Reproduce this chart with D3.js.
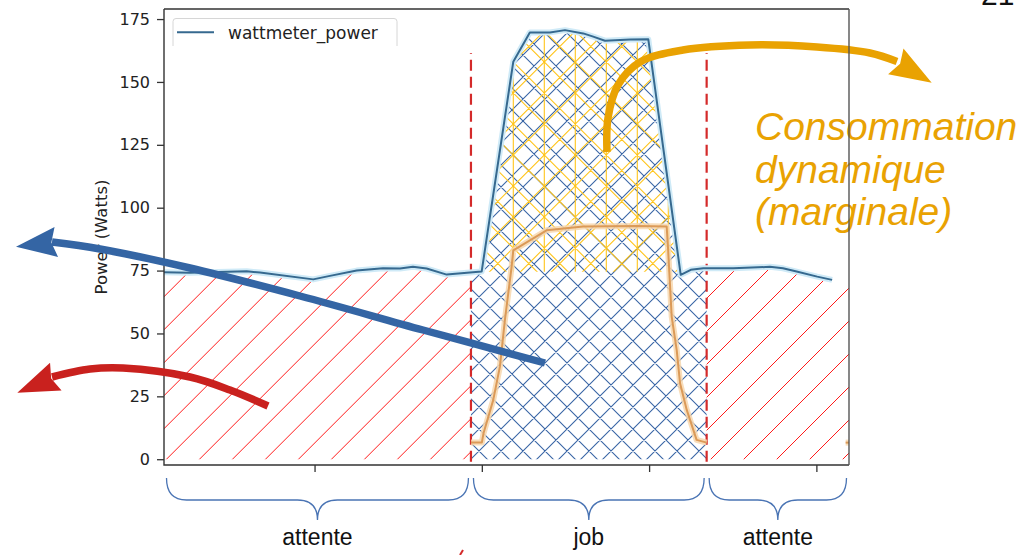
<!DOCTYPE html>
<html><head><meta charset="utf-8">
<script src="https://cdn.jsdelivr.net/npm/d3@7"></script>
<style>body{margin:0;background:#fff;} svg{display:block;}</style>
</head><body>
<svg id="c" width="1028" height="555"></svg>
<script>
// ---------- data ----------
const powerTime  = [-90, -74.5, -40.6, -32.6, -0.8, 9.2, 25.2, 40.9, 51.1, 58.8, 67, 79, 92.9, 99.9, 118.8, 128.7, 140.7, 149.7, 160.6, 166.6, 173.6, 188.8, 199.5, 218.9, 224.9, 232.4, 250.3, 272.2, 280, 288.2, 300.5, 309.4];
const powerWatts = [74.3, 74.1, 74.7, 74.2, 71.5, 72.9, 75.0, 75.9, 75.8, 76.5, 75.8, 73.4, 74.2, 74.6, 158.0, 169.7, 169.7, 170.6, 169.3, 168.0, 166.4, 166.9, 167.0, 73.3, 75.3, 75.9, 75.9, 76.5, 75.9, 74.6, 72.6, 71.3];
const dynTime  = [93.5, 100, 101, 106.8, 110.8, 113.8, 117.8, 118.8, 138.7, 160.5, 192.6, 210.5, 211.4, 213.5, 216.5, 218.5, 222.5, 228.4, 234.4];
const dynWatts = [6.6, 6.6, 10.3, 23.5, 36.8, 55.4, 76.5, 83.0, 91.0, 92.5, 92.7, 92.5, 83.0, 56.7, 43.4, 30.2, 19.6, 7.7, 6.6];
const dynTailTime  = [317.5, 319.5];
const dynTailWatts = [6.6, 6.6];
const phaseLabels = ["attente", "job", "attente"];
const phaseStart  = [-90, 93.5, 234.4];
const phaseEnd    = [93.5, 234.4, 319.5];
const idleBaseline = 74.5;
const markerTop = 161.5;
const yTicks = [0, 25, 50, 75, 100, 125, 150, 175];
const xTicks = [0, 100, 200, 300];
const legendLabel = "wattmeter_power";
const yAxisLabel = "Power (Watts)";
const noteLines = ["Consommation", "dynamique", "(marginale)"];
const slideNumber = "21";

// ---------- layout ----------
const plot = {left: 164, right: 849, top: 9, bottom: 465};
const x = d3.scaleLinear().domain([-90, 319.5]).range([plot.left, plot.right]);
const y = d3.scaleLinear().domain([-2.3, 179]).range([plot.bottom, plot.top]);

const svg = d3.select("#c");
const defs = svg.append("defs");

const power = powerTime.map((t, i) => ({t, w: powerWatts[i]}));
const powerExt = power.concat([{t: x.domain()[1], w: powerWatts[powerWatts.length - 1]}]);
const dyn = dynTime.map((t, i) => ({t, w: dynWatts[i]}));
const dynTail = dynTailTime.map((t, i) => ({t, w: dynTailWatts[i]}));
const phases = phaseLabels.map((l, i) => ({label: l, start: phaseStart[i], end: phaseEnd[i]}));

// clip paths
phases.forEach((ph, i) => {
  defs.append("clipPath").attr("id", "clip" + i).append("rect")
    .attr("x", x(ph.start)).attr("y", plot.top)
    .attr("width", x(ph.end) - x(ph.start)).attr("height", plot.bottom - plot.top);
});
defs.append("clipPath").attr("id", "plotClip").append("rect")
  .attr("x", plot.left).attr("y", plot.top).attr("width", plot.right - plot.left).attr("height", plot.bottom - plot.top);
const areaFull = d3.area().x(d => x(d.t)).y0(y(0)).y1(d => y(d.w));
const areaDyn = d3.area().x(d => x(d.t)).y0(y(idleBaseline)).y1(d => y(Math.max(d.w, idleBaseline)));
defs.append("clipPath").attr("id", "areaFullClip").append("path").datum(powerExt).attr("d", areaFull);
defs.append("clipPath").attr("id", "areaDynClip").append("path").datum(power).attr("d", areaDyn);

// hatch line generator (explicit lines)
function hatch(parent, spacing, offset, kinds, color, sw) {
  const T = plot.top - 40, B = plot.bottom + 40;
  let d = "";
  const lo = plot.left - 600, hi = plot.right + 600;
  const k0 = Math.floor((lo - offset) / spacing), k1 = Math.ceil((hi - offset) / spacing);
  for (let k = k0; k <= k1; k++) {
    const c = offset + k * spacing;
    if (kinds.includes("/")) d += `M${c - B},${B}L${c - T},${T}`;
    if (kinds.includes("\\")) d += `M${c + T},${T}L${c + B},${B}`;
    if (kinds.includes("|") && c >= plot.left - 5 && c <= plot.right + 5) d += `M${c},${T}L${c},${B}`;
  }
  parent.append("path").attr("d", d).attr("stroke", color).attr("stroke-width", sw).attr("fill", "none");
}
function region(phaseIdx, clipId) {
  return svg.append("g").attr("clip-path", `url(#clip${phaseIdx})`)
    .append("g").attr("clip-path", `url(#${clipId})`);
}
hatch(region(0, "areaFullClip"), 33, 460.7, "/", "#ff1a1a", 1);
hatch(region(2, "areaFullClip"), 33, 1005, "/", "#ff1a1a", 1);
hatch(region(1, "areaFullClip"), 22, 6, "/\\", "#3a66a6", 1.1);
const yel = region(1, "areaDynClip");
hatch(yel, 31, 513.3, "/\\", "#ffc41a", 1.1);
hatch(yel, 31, 513.3, "|", "#ffc41a", 1.1);

// phase boundary dashed lines
[phaseStart[1], phaseStart[2]].forEach(t => {
  svg.append("line").attr("x1", x(t)).attr("x2", x(t)).attr("y1", y(-1)).attr("y2", y(markerTop))
    .attr("stroke", "#d42a2a").attr("stroke-width", 2.2).attr("stroke-dasharray", "11,6");
});

// dynamic (orange) curve
const lineGen = d3.line().x(d => x(d.t)).y(d => y(d.w));
[dyn, dynTail].forEach(data => {
  svg.append("path").datum(data).attr("d", lineGen).attr("fill", "none")
    .attr("stroke", "#f7d7ae").attr("stroke-width", 6).attr("stroke-linejoin", "round").attr("opacity", 0.85);
  svg.append("path").datum(data).attr("d", lineGen).attr("fill", "none")
    .attr("stroke", "#db9a58").attr("stroke-width", 2).attr("stroke-linejoin", "round");
});

// power line with halo
svg.append("path").datum(power).attr("d", lineGen).attr("fill", "none")
  .attr("stroke", "#cfeaf7").attr("stroke-width", 6).attr("stroke-linejoin", "round").attr("clip-path", "url(#plotClip)");
svg.append("path").datum(power).attr("d", lineGen).attr("fill", "none")
  .attr("stroke", "#36698f").attr("stroke-width", 2).attr("stroke-linejoin", "round");

// legend
const lg = svg.append("g");
lg.append("rect").attr("x", 173).attr("y", 18.5).attr("width", 224).attr("height", 30).attr("fill", "#fff").attr("opacity", 0.9);
lg.append("path").attr("d", "M173,46L173,21.5Q173,18.5 176,18.5L394,18.5Q397,18.5 397,21.5L397,46")
  .attr("fill", "none").attr("stroke", "#d6d6d6").attr("stroke-width", 1);
lg.append("line").attr("x1", 177).attr("x2", 214).attr("y1", 32.3).attr("y2", 32.3)
  .attr("stroke", "#36698f").attr("stroke-width", 2);
lg.append("text").attr("x", 228).attr("y", 38.5).text(legendLabel)
  .attr("font-family", "DejaVu Sans").attr("font-size", 17).attr("fill", "#222");

// axes
const axisColor = "#333";
const yAxis = svg.append("g").attr("transform", `translate(${plot.left},0)`)
  .call(d3.axisLeft(y).tickValues(yTicks).tickSize(7).tickPadding(7));
yAxis.select(".domain").remove();
yAxis.selectAll("line").attr("stroke", axisColor).attr("stroke-width", 1.3);
yAxis.selectAll("text").attr("font-family", "DejaVu Sans").attr("font-size", 16).attr("fill", "#222");
const xAxis = svg.append("g").attr("transform", `translate(0,${plot.bottom})`)
  .call(d3.axisBottom(x).tickValues(xTicks).tickSize(7).tickFormat(""));
xAxis.select(".domain").remove();
xAxis.selectAll("line").attr("stroke", axisColor).attr("stroke-width", 1.3);

svg.append("text").attr("transform", `translate(107,237) rotate(-90)`).attr("text-anchor", "middle")
  .attr("font-family", "DejaVu Sans").attr("font-size", 16.5).attr("fill", "#222").text(yAxisLabel);

// spines (left, bottom, top)
svg.append("path").attr("d", `M${plot.left},${plot.top}L${plot.left},${plot.bottom}L${plot.right},${plot.bottom}M${plot.left},${plot.top}L${plot.right},${plot.top}`)
  .attr("fill", "none").attr("stroke", axisColor).attr("stroke-width", 1.4);

// braces + phase labels
const braceTop = 478, braceMid = 500, braceTip = 520;
phases.forEach(ph => {
  const x1 = x(ph.start) + 2.5, x2 = x(ph.end) - 2.5, xm = (x1 + x2) / 2, r = 20;
  const d = `M${x1},${braceTop}Q${x1},${braceMid} ${x1 + r},${braceMid}L${xm - r},${braceMid}Q${xm},${braceMid} ${xm},${braceTip}` +
            `Q${xm},${braceMid} ${xm + r},${braceMid}L${x2 - r},${braceMid}Q${x2},${braceMid} ${x2},${braceTop}`;
  svg.append("path").attr("d", d).attr("fill", "none").attr("stroke", "#4a74b4").attr("stroke-width", 1.3);
  svg.append("text").attr("x", xm).attr("y", 545).attr("text-anchor", "middle")
    .attr("font-family", "Liberation Sans").attr("font-size", 23).attr("fill", "#111").text(ph.label);
});

// annotation arrows
function arrowHead(tip, base, hw, notch) {
  const dx = base[0] - tip[0], dy = base[1] - tip[1], L = Math.hypot(dx, dy);
  const ux = dx / L, uy = dy / L, px = -uy, py = ux;
  const c1 = [base[0] + px * hw, base[1] + py * hw], c2 = [base[0] - px * hw, base[1] - py * hw];
  const n = [base[0] - ux * notch, base[1] - uy * notch];
  return `M${tip}L${c1}L${n}L${c2}Z`;
}
const curve = d3.line().curve(d3.curveCatmullRom.alpha(0.5));
const arrows = [
  {color: "#3465a4", pts: [[545,363],[423,330],[300,296],[190,268],[100,249],[52,242]], tip: [16,246.7], base: [56.3,242]},
  {color: "#c9211e", pts: [[268,406],[230,390],[190,377],[123,368],[90,369],[52,377]], tip: [17.3,392.7], base: [55.8,376.7]},
  {color: "#e9a202", pts: [[607,152],[608,118],[618,85],[640,62],[683,50],[750,45],[817,47],[870,53],[897,61.5]], tip: [931.7,82.7], base: [895.8,61.3]}
];

// note text
const note = svg.append("text").attr("font-family", "Liberation Sans").attr("font-style", "italic")
  .attr("font-size", 39).attr("fill", "#e9a202");
noteLines.forEach((l, i) => note.append("tspan").attr("x", 755).attr("y", 140 + i * 42.5).text(l));

arrows.forEach(a => {
  svg.append("path").attr("d", curve(a.pts)).attr("fill", "none").attr("stroke", a.color).attr("stroke-width", 7.5);
  svg.append("path").attr("d", arrowHead(a.tip, a.base, 15, 5)).attr("fill", a.color);
});

// right spine on top
svg.append("line").attr("x1", plot.right).attr("x2", plot.right).attr("y1", plot.top).attr("y2", plot.bottom)
  .attr("stroke", "#555").attr("stroke-width", 1.4);

// slide number (cut at top, as in the slide) and stray mark
svg.append("text").attr("x", 981).attr("y", 5).attr("font-family", "Liberation Sans").attr("font-size", 30).attr("fill", "#111").text(slideNumber);
svg.append("path").attr("d", "M460,555L463,550").attr("stroke", "#d42a2a").attr("stroke-width", 2);
</script>
</body></html>
